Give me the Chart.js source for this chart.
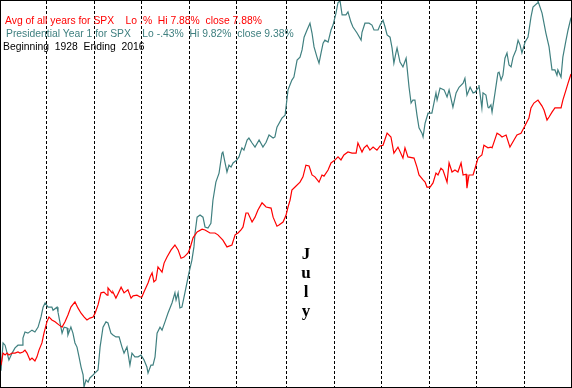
<!DOCTYPE html>
<html>
<head>
<meta charset="utf-8">
<script src="https://cdn.jsdelivr.net/npm/chart.js@4/dist/chart.umd.min.js"></script>
<style>
  body { margin: 0; background: #fff; }
  #wrap { position: relative; width: 572px; height: 388px; box-sizing: border-box; border: 1px solid #000; background: #fff; }
  canvas { position: absolute; left: 0; top: 0; }
  .lbl { position: absolute; left: 4px; font: 11.5px "Liberation Sans", Arial, sans-serif; white-space: pre; line-height: 13px; transform: scaleX(0.9); transform-origin: left top; }
  #july { position: absolute; left: 296px; top: 243px; width: 18px; text-align: center; font: bold 17px "Liberation Serif", "Times New Roman", serif; line-height: 19px; color: #000; }
</style>
</head>
<body>
<div id="wrap">
  <canvas id="seasonChart" width="570" height="386"></canvas>
  <div class="lbl" style="top:13px;color:#ff0000">Avg of all years for SPX    Lo .%  Hi 7.88%  close 7.88%</div>
  <div class="lbl" style="top:26px;left:5px;color:#408080">Presidential Year 1 for SPX    Lo -.43%  Hi 9.82%  close 9.38%</div>
  <div class="lbl" style="top:39px;left:2px;color:#000">Beginning  1928  Ending  2016</div>
  <div id="july">J<br>u<br>l<br>y</div>
</div>
<script>
// trading day where each month starts (Feb..Dec), year has ~252 days
const monthStarts = [20, 41, 62, 83, 104, 126, 147, 168, 189, 210, 231];

// Avg of all years (% change from start of year)
const avgDays = [0,0.9,1.8,2.7,3.5,4.9,6.2,7.5,8.4,9.7,
  10.6,11.5,12.8,13.7,15.0,15.9,16.8,18.1,19.0,20.3,
  21.2,22.5,23.9,25.6,27.0,28.3,29.6,30.9,32.7,34.0,
  35.4,36.7,38.0,39.3,40.7,41.6,42.9,44.2,45.5,46.9,
  47.3,49.1,49.5,50.8,51.7,53.1,54.4,56.1,57.5,58.4,
  60.1,61.5,62.3,63.2,65.0,65.9,66.8,67.6,68.5,69.4,
  71.2,72.1,73.4,75.2,76.9,78.3,79.6,80.9,82.7,83.6,
  84.9,86.7,88.9,90.2,92.4,94.6,95.9,98.1,99.9,102.1,
  103.5,104.8,106.1,107.0,108.3,109.2,111.0,112.3,113.6,115.4,
  117.2,119.4,120.3,122.0,122.9,124.7,126.0,126.9,127.8,128.6,
  130.0,132.2,133.5,134.8,136.2,137.5,138.8,140.6,141.9,142.8,
  144.6,145.9,147.7,149.0,150.3,151.6,153.4,155.2,157.0,157.8,
  159.6,160.5,161.8,163.1,164.5,166.2,167.6,168.9,170.7,172.4,
  173.7,175.5,177.7,178.6,179.9,182.6,183.9,184.8,186.6,187.5,
  188.3,189.7,191.0,192.3,193.2,194.5,195.4,197.2,198.1,199.4,
  200.7,202.0,203.4,204.3,205.6,206.0,206.9,208.7,209.6,210.9,
  212.6,213.5,215.3,216.6,217.1,219.3,220.6,221.5,223.3,225.0,
  226.8,228.1,229.9,231.3,233.4,234.3,235.6,237.4,239.2,240.1,
  241.4,242.3,243.6,244.9,246.2,247.6,248.4,249.8,250.7,252.0];
const avgVals = [0.15,0.47,0.42,0.47,0.42,0.47,0.47,0.50,0.47,0.50,
  0.55,0.47,0.29,0.34,0.26,0.37,0.55,0.74,1.00,1.30,
  1.43,1.35,1.30,1.22,1.16,1.30,1.48,1.69,1.83,1.67,
  1.53,1.43,1.35,1.40,1.43,1.53,1.75,2.07,2.09,2.01,
  2.20,2.07,2.09,1.93,2.04,2.22,2.07,2.15,1.93,1.99,
  2.01,1.96,1.96,2.09,2.33,2.49,2.60,2.36,2.41,2.76,
  2.62,2.86,3.02,3.21,3.34,3.21,2.99,3.02,3.13,3.26,
  3.53,3.69,3.76,3.74,3.66,3.66,3.61,3.47,3.29,3.34,
  3.61,3.66,3.74,3.82,4.19,4.19,3.95,4.08,4.27,4.46,
  4.35,4.32,4.08,3.84,3.87,3.95,4.13,4.35,4.53,4.80,
  4.88,5.01,5.15,5.46,5.44,5.20,5.15,5.01,5.20,5.17,
  5.33,5.52,5.60,5.68,5.60,5.73,5.81,5.78,5.78,6.05,
  5.81,5.92,5.99,5.86,5.94,5.86,5.97,5.99,6.31,6.21,
  5.78,5.94,5.65,5.92,5.68,5.65,5.41,5.20,5.07,5.01,
  4.88,4.88,4.99,5.25,5.20,5.38,5.33,5.01,5.52,5.28,
  5.33,5.28,5.52,5.20,5.22,4.85,5.20,5.20,5.38,5.65,
  5.73,5.99,5.92,5.94,5.92,6.31,6.26,6.21,6.26,5.94,
  6.13,6.26,6.31,6.47,6.71,6.98,7.11,7.19,7.03,6.92,
  6.66,6.74,6.87,6.98,6.98,6.98,7.19,7.46,7.64,7.88];

// Presidential Year 1 (% change from start of year)
const pres1Days = [0,0.9,1.8,2.7,3.5,4.9,6.2,7.5,9.3,9.7,
  10.6,11.9,13.7,15.0,16.4,17.7,18.6,19.5,20.8,22.5,
  23.0,24.8,25.2,26.1,27.0,27.9,29.2,29.6,30.9,31.8,
  32.7,33.6,34.5,35.4,36.3,36.7,37.6,38.5,39.3,40.7,
  42.0,42.9,43.8,45.1,46.4,47.3,48.6,49.5,50.8,52.2,
  53.5,54.4,55.7,57.0,57.9,59.2,60.6,61.9,63.2,64.5,
  65.0,66.3,67.2,68.1,69.0,70.3,71.2,72.5,73.8,75.6,
  76.9,77.4,78.3,79.1,80.0,81.3,83.1,84.4,85.3,85.8,
  86.7,88.0,89.3,90.2,91.5,92.8,93.7,95.0,96.4,97.7,
  98.1,99.0,99.9,100.8,101.7,102.6,104.3,105.2,106.5,107.4,
  108.8,109.6,111.0,112.3,114.1,115.8,117.2,118.5,120.3,121.1,
  122.0,124.2,125.6,126.9,128.6,129.5,130.9,132.2,133.1,134.0,
  135.3,136.6,137.5,138.4,139.7,140.6,141.5,142.4,143.2,144.6,
  145.9,146.8,148.1,149.0,149.9,150.8,152.5,153.4,154.7,155.6,
  157.4,159.2,159.6,160.9,162.7,164.0,164.9,166.7,167.6,168.9,
  169.8,170.7,172.0,172.9,173.7,174.6,175.1,176.4,177.7,179.1,
  179.5,180.4,181.3,182.1,183.0,183.9,184.8,186.1,186.6,187.5,
  188.8,190.5,191.4,192.3,192.8,194.1,195.9,197.2,198.1,199.8,
  201.2,202.5,204.3,205.1,206.0,207.4,208.7,209.6,210.9,211.3,
  212.6,213.1,214.4,215.3,215.7,216.6,217.1,218.4,219.7,220.2,
  221.1,221.9,222.8,223.7,224.6,225.5,226.4,227.7,228.6,229.5,
  230.3,231.7,233.0,234.3,235.2,237.0,237.4,239.2,240.9,242.3,
  243.6,244.9,245.8,246.2,247.6,248.4,249.8,250.7,252.0];
const pres1Vals = [0.00,0.74,0.68,0.47,0.29,0.47,0.61,0.68,0.68,0.87,
  1.03,1.00,1.08,1.03,1.16,1.43,1.69,1.80,1.69,1.69,
  1.61,1.69,1.56,1.27,1.00,1.16,1.14,0.95,1.16,1.00,
  0.74,0.63,0.37,0.10,-0.11,-0.43,-0.24,-0.30,-0.19,-0.11,
  -0.03,0.02,0.63,1.16,1.30,1.27,1.00,0.95,0.90,0.90,
  0.63,0.47,0.63,0.15,0.47,0.37,0.37,0.42,0.29,0.10,
  -0.06,0.15,0.15,0.37,1.00,1.16,1.08,1.30,1.53,1.80,
  2.07,1.88,2.07,1.67,1.69,2.07,2.60,2.94,3.29,3.66,
  4.08,4.14,4.08,3.82,3.79,3.92,4.53,5.01,5.25,5.78,
  5.81,5.54,5.28,5.46,5.41,5.52,5.60,5.68,5.92,5.86,
  6.13,6.18,6.05,5.94,6.13,5.94,6.07,6.26,6.18,6.21,
  6.47,6.71,6.79,7.46,7.72,7.80,8.25,8.33,8.52,8.86,
  9.05,9.23,8.97,8.60,8.33,8.17,8.44,8.70,8.78,8.73,
  9.05,9.18,9.50,9.78,9.82,9.45,9.45,9.53,9.26,9.13,
  8.97,8.78,8.99,9.23,9.23,9.18,9.05,9.05,9.18,9.31,
  9.13,8.92,8.86,8.57,8.17,8.44,8.57,8.20,8.07,8.30,
  8.07,7.53,7.11,7.19,7.19,6.79,6.45,6.31,6.21,6.58,
  6.84,6.84,7.11,7.38,7.19,7.51,7.46,7.27,7.46,7.00,
  7.38,7.53,7.64,7.77,7.32,7.53,7.38,7.40,7.51,7.59,
  6.98,7.38,7.32,7.00,6.98,7.06,6.87,7.38,7.91,7.93,
  7.72,7.85,8.30,8.44,8.12,8.07,8.33,8.52,8.78,8.65,
  8.44,8.73,8.86,9.39,9.66,9.76,9.82,9.50,8.97,8.60,
  7.99,7.99,7.85,7.99,7.80,8.33,8.78,9.05,9.38];

const toPoints = (days, vals) => days.map((d, i) => ({ x: d, y: vals[i] }));

// dashed month separators
const monthLines = {
  id: 'monthLines',
  beforeDatasetsDraw(chart) {
    const { ctx, chartArea, scales } = chart;
    ctx.save();
    ctx.strokeStyle = '#000';
    ctx.lineWidth = 1;
    ctx.setLineDash([3, 2]);
    monthStarts.forEach(d => {
      const px = Math.round(scales.x.getPixelForValue(d)) + 0.5;
      ctx.beginPath();
      ctx.moveTo(px, chartArea.top);
      ctx.lineTo(px, chartArea.bottom);
      ctx.stroke();
    });
    ctx.restore();
  }
};

const ctx = document.getElementById('seasonChart').getContext('2d');
new Chart(ctx, {
  type: 'line',
  data: {
    datasets: [
      {
        label: 'Avg of all years for SPX',
        data: toPoints(avgDays, avgVals),
        borderColor: '#ff0000',
        borderWidth: 1.2,
        pointRadius: 0,
        tension: 0,
      },
      {
        label: 'Presidential Year 1 for SPX',
        data: toPoints(pres1Days, pres1Vals),
        borderColor: '#408080',
        borderWidth: 1.2,
        pointRadius: 0,
        tension: 0,
      },
    ],
  },
  options: {
    responsive: false,
    animation: false,
    layout: { padding: 0 },
    plugins: { legend: { display: false }, tooltip: { enabled: false } },
    scales: {
      x: { type: 'linear', min: 0, max: 252, display: false },
      y: { min: -0.43, max: 9.82, display: false },
    },
  },
  plugins: [monthLines],
});
</script>
</body>
</html>
